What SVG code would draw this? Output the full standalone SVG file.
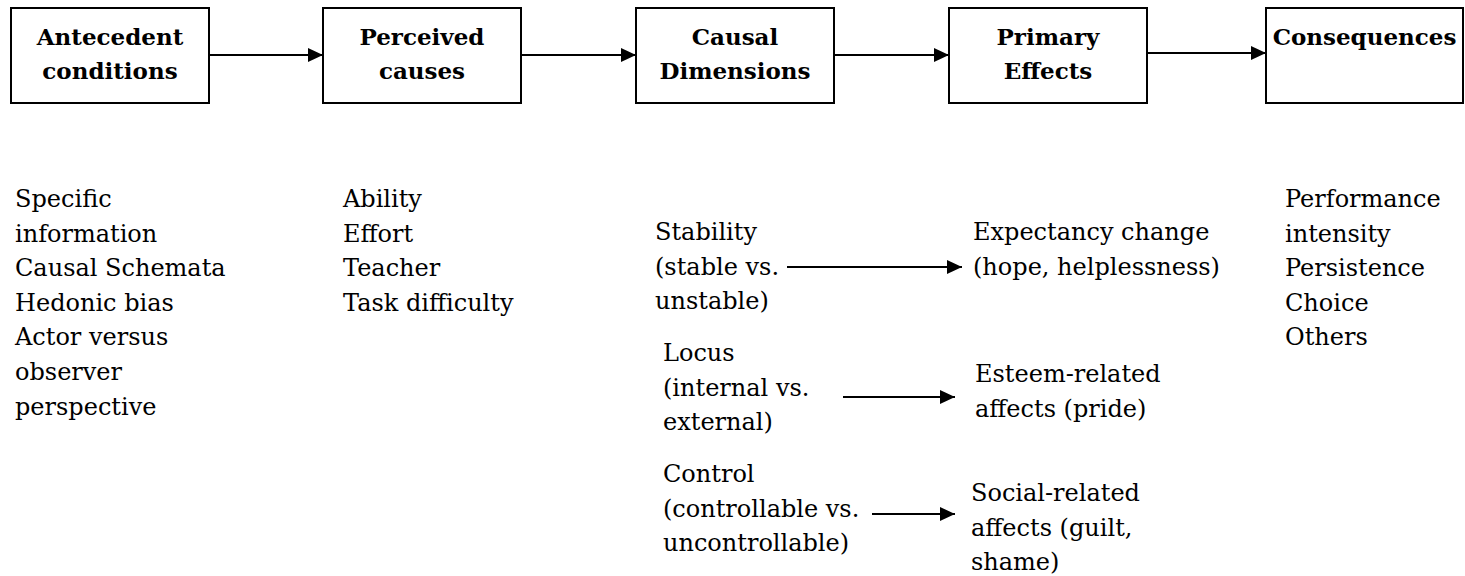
<svg xmlns="http://www.w3.org/2000/svg" width="1465" height="576" viewBox="0 0 1465 576">
<style>
.box{fill:#fff;stroke:#000;stroke-width:2}
.t{font-family:"DejaVu Serif","Liberation Serif",serif;font-weight:bold;font-size:23px;text-anchor:middle;fill:#000}
.b{font-family:"DejaVu Serif","Liberation Serif",serif;font-size:24px;fill:#000}
.c{stroke:#000;stroke-width:2;fill:none;marker-end:url(#ah)}
</style>
<defs>
<marker id="ah" markerUnits="userSpaceOnUse" markerWidth="16" markerHeight="14" refX="15" refY="7" orient="auto">
<path d="M0,0 L15,7 L0,14 z" fill="#000"/>
</marker>
</defs>
<g id="n1"><rect class="box" x="11" y="8" width="198" height="95"/><text class="t" x="110" y="45">Antecedent</text><text class="t" x="110" y="79">conditions</text></g>
<g id="n2"><rect class="box" x="323" y="8" width="198" height="95"/><text class="t" x="422" y="45">Perceived</text><text class="t" x="422" y="79">causes</text></g>
<g id="n3"><rect class="box" x="636" y="8" width="198" height="95"/><text class="t" x="735" y="45">Causal</text><text class="t" x="735" y="79">Dimensions</text></g>
<g id="n4"><rect class="box" x="949" y="8" width="198" height="95"/><text class="t" x="1048" y="45">Primary</text><text class="t" x="1048" y="79">Effects</text></g>
<g id="n5"><rect class="box" x="1266" y="8" width="197" height="95"/><text class="t" x="1364.5" y="45">Consequences</text></g>
<g id="connectors">
<line class="c" x1="209" y1="55" x2="323" y2="55"/>
<line class="c" x1="521" y1="55" x2="636" y2="55"/>
<line class="c" x1="834" y1="55" x2="949" y2="55"/>
<line class="c" x1="1147" y1="53" x2="1266" y2="53"/>
<line class="c" x1="787" y1="267" x2="962" y2="267"/>
<line class="c" x1="843" y1="397" x2="955" y2="397"/>
<line class="c" x1="872" y1="514" x2="955" y2="514"/>
</g>
<g id="antecedents">
<text class="b" x="15" y="207">Specific</text>
<text class="b" x="15" y="242">information</text>
<text class="b" x="15" y="276">Causal Schemata</text>
<text class="b" x="15" y="311">Hedonic bias</text>
<text class="b" x="15" y="345">Actor versus</text>
<text class="b" x="15" y="380">observer</text>
<text class="b" x="15" y="415">perspective</text>
</g>
<g id="causes">
<text class="b" x="343" y="207">Ability</text>
<text class="b" x="343" y="242">Effort</text>
<text class="b" x="343" y="276">Teacher</text>
<text class="b" x="343" y="311">Task difficulty</text>
</g>
<g id="stability">
<text class="b" x="655" y="240">Stability</text>
<text class="b" x="655" y="275">(stable vs.</text>
<text class="b" x="655" y="309">unstable)</text>
</g>
<g id="expectancy">
<text class="b" x="973" y="240">Expectancy change</text>
<text class="b" x="973" y="275">(hope, helplessness)</text>
</g>
<g id="locus">
<text class="b" x="663" y="361">Locus</text>
<text class="b" x="663" y="396">(internal vs.</text>
<text class="b" x="663" y="430">external)</text>
</g>
<g id="esteem">
<text class="b" x="975" y="382">Esteem-related</text>
<text class="b" x="975" y="417">affects (pride)</text>
</g>
<g id="control">
<text class="b" x="663" y="482">Control</text>
<text class="b" x="663" y="517">(controllable vs.</text>
<text class="b" x="663" y="551">uncontrollable)</text>
</g>
<g id="social">
<text class="b" x="971" y="501">Social-related</text>
<text class="b" x="971" y="536">affects (guilt,</text>
<text class="b" x="971" y="570">shame)</text>
</g>
<g id="consequences">
<text class="b" x="1285" y="207">Performance</text>
<text class="b" x="1285" y="242">intensity</text>
<text class="b" x="1285" y="276">Persistence</text>
<text class="b" x="1285" y="311">Choice</text>
<text class="b" x="1285" y="345">Others</text>
</g>
</svg>
